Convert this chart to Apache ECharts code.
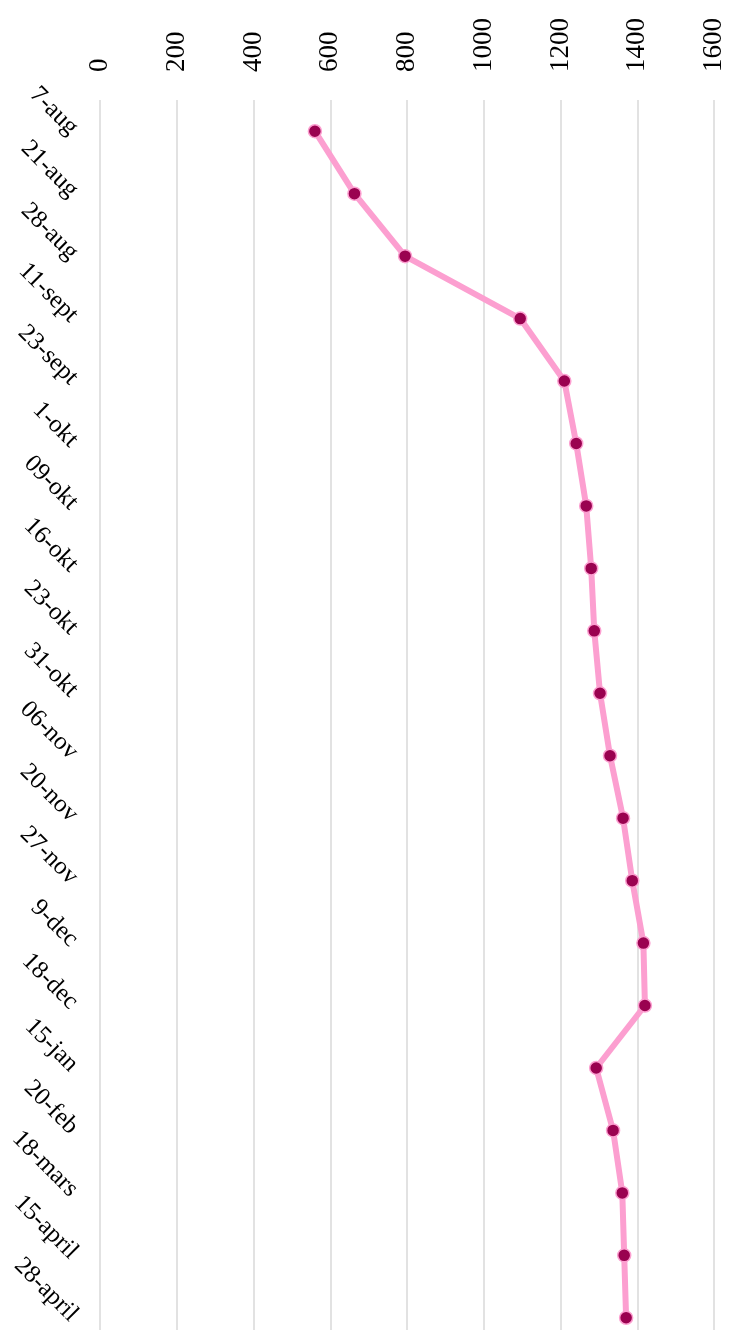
<!DOCTYPE html>
<html>
<head>
<meta charset="utf-8">
<script src="https://cdn.jsdelivr.net/npm/echarts@6/dist/echarts.min.js"></script>
<style>
html,body{margin:0;padding:0;background:#fff;}
#chart{width:739px;height:1330px;}
</style>
</head>
<body>
<div id="chart"></div>
<script>
var categories = ['7-aug','21-aug','28-aug','11-sept','23-sept','1-okt','09-okt','16-okt','23-okt','31-okt','06-nov','20-nov','27-nov','9-dec','18-dec','15-jan','20-feb','18-mars','15-april','28-april'];
var values = [560, 663, 795, 1095, 1210, 1241, 1267, 1280, 1288, 1303, 1329, 1363, 1387, 1416, 1420, 1293, 1337, 1361, 1366, 1371];
var valueMin = 0, valueMax = 1600, valueStep = 200;

var chart = echarts.init(document.getElementById('chart'), null, {renderer:'canvas'});
var font = '"Liberation Serif", "DejaVu Serif", serif';
chart.setOption({
  animation: false,
  backgroundColor: '#ffffff',
  grid: {left: 100, top: 100, width: 614, height: 1249, containLabel: false, outerBoundsMode: 'none'},
  xAxis: {
    type: 'value', position: 'top', min: valueMin, max: valueMax, interval: valueStep,
    axisLine: {show: false}, axisTick: {show: false},
    splitLine: {show: true, lineStyle: {color: '#d9d9d9', width: 1.5}},
    axisLabel: {rotate: -90, margin: 28, color: '#000', fontFamily: font, fontSize: 27,
      formatter: function (v) { return String(v); }}
  },
  yAxis: {
    type: 'category', data: categories, inverse: true, boundaryGap: true,
    axisLine: {show: false}, axisTick: {show: false}, splitLine: {show: false},
    axisLabel: {rotate: -45, margin: 26, color: '#000', fontFamily: font, fontSize: 25, interval: 0}
  },
  series: [{
    type: 'line', data: values,
    lineStyle: {color: '#fc9fd0', width: 6},
    symbol: 'circle', symbolSize: 13,
    itemStyle: {color: '#9a0250', borderColor: '#fc9fd0', borderWidth: 1.5}
  }]
});
</script>
</body>
</html>
